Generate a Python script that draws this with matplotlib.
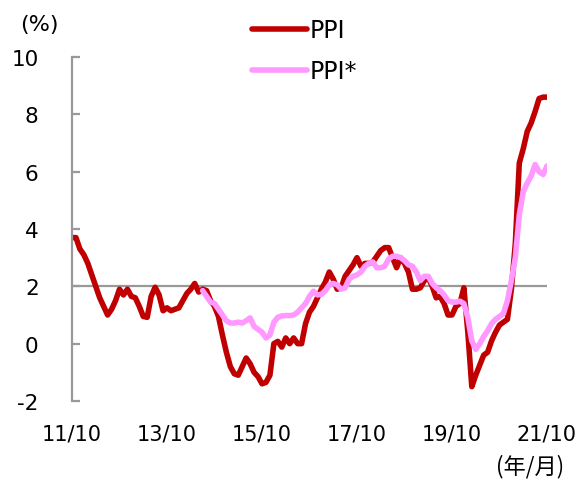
import numpy as np
import matplotlib
matplotlib.use('Agg')
import matplotlib.pyplot as plt

# monthly series, 2011/10 .. 2021/10
ppi = [3.7, 3.7, 3.3, 3.1, 2.8, 2.4, 2.0, 1.6, 1.3, 1.0,
       1.2, 1.5, 1.9, 1.7, 1.9, 1.65, 1.6, 1.3, 0.95, 0.92,
       1.65, 1.97, 1.7, 1.15, 1.25, 1.15, 1.2, 1.25, 1.5, 1.75,
       1.9, 2.1, 1.8, 1.9, 1.85, 1.5, 1.3, 0.95, 0.3, -0.3,
       -0.8, -1.05, -1.1, -0.8, -0.5, -0.7, -1.0, -1.15, -1.4, -1.35,
       -1.1, 0.0, 0.08, -0.12, 0.2, 0.0, 0.2, 0.0, 0.0, 0.7,
       1.1, 1.3, 1.6, 1.9, 2.15, 2.5, 2.25, 1.9, 1.95, 2.35,
       2.55, 2.75, 3.0, 2.7, 2.8, 2.8, 2.85, 3.05, 3.25, 3.35,
       3.35, 3.0, 2.65, 3.0, 2.8, 2.5, 1.9, 1.9, 1.95, 2.2,
       2.3, 2.0, 1.6, 1.65, 1.4, 1.0, 1.0, 1.3, 1.4, 1.95,
       0.4, -1.5, -1.1, -0.75, -0.4, -0.3, 0.1, 0.4, 0.65, 0.75,
       0.85, 1.9, 3.5, 6.3, 6.8, 7.4, 7.7, 8.1, 8.55, 8.6,
       8.6]

# PPI* starts at 2014/07
ppi_star_start = 33
ppi_star = [1.85, 1.65, 1.45, 1.4, 1.2, 1.0, 0.8, 0.72, 0.72, 0.75,
            0.72, 0.8, 0.9, 0.6, 0.5, 0.4, 0.2, 0.3, 0.75, 0.92,
            0.97, 0.98, 0.98, 1.0, 1.1, 1.25, 1.4, 1.65, 1.83, 1.7,
            1.72, 1.85, 2.05, 2.1, 2.05, 1.9, 1.95, 2.25, 2.35, 2.4,
            2.5, 2.7, 2.8, 2.85, 2.65, 2.65, 2.7, 2.95, 3.05, 3.05,
            3.0, 2.9, 2.75, 2.7, 2.5, 2.2, 2.35, 2.35, 2.1, 1.95,
            1.85, 1.7, 1.5, 1.45, 1.45, 1.48, 1.4, 0.9, 0.1, -0.2,
            0.0, 0.25, 0.45, 0.7, 0.85, 0.95, 1.05, 1.5, 2.2, 3.0,
            4.5, 5.3, 5.6, 5.85, 6.25, 6.0, 5.9, 6.2]

xtick_labels = ['11/10', '13/10', '15/10', '17/10', '19/10', '21/10']
ytick_values = [-2, 0, 2, 4, 6, 8, 10]

x_ppi = np.arange(len(ppi))
x_star = np.arange(ppi_star_start, ppi_star_start + len(ppi_star))

fig = plt.figure(figsize=(5.79, 4.81), dpi=100)
ax = fig.add_axes([72 / 579, 79 / 481, 475 / 579, 344 / 481])

ax.axhline(2, color='#999999', lw=1.6, zorder=1)
ax.plot(x_ppi, ppi, color='#C00000', lw=4.0, label='PPI', zorder=2,
        solid_joinstyle='round', solid_capstyle='round')
ax.plot(x_star, ppi_star, color='#FF99FF', lw=4.0, label='PPI*', zorder=3,
        solid_joinstyle='round', solid_capstyle='round')

ax.set_xlim(0, 120)
ax.set_ylim(-2, 10)
ax.set_xticks(np.arange(0, 121, 24))
ax.set_xticklabels(xtick_labels)
ax.set_yticks(ytick_values)
ax.set_yticklabels([str(v) for v in ytick_values])

for side in ['top', 'right', 'bottom']:
    ax.spines[side].set_visible(False)
ax.spines['left'].set_color('#999999')
ax.spines['left'].set_linewidth(1.6)

ax.tick_params(axis='y', direction='in', length=6, width=1.6,
               color='#999999', labelsize=15.5, pad=24)
ax.tick_params(axis='x', length=0, labelsize=15, pad=16)

fig.text(39 / 579, 1 - 25 / 481, '(%)', fontsize=16, ha='center', va='center')
fig.text(530 / 579, 1 - 467 / 481, '(年/月)', fontsize=16, ha='center', va='center',
         family=['Noto Sans CJK JP', 'DejaVu Sans'])

ax.legend(loc='upper left', bbox_to_anchor=(231 / 579, 1 + 2 / 481),
          bbox_transform=fig.transFigure, frameon=False, fontsize=17,
          handlelength=2.3, handletextpad=0.15, labelspacing=0.7)

fig.savefig('out.png', dpi=100)
